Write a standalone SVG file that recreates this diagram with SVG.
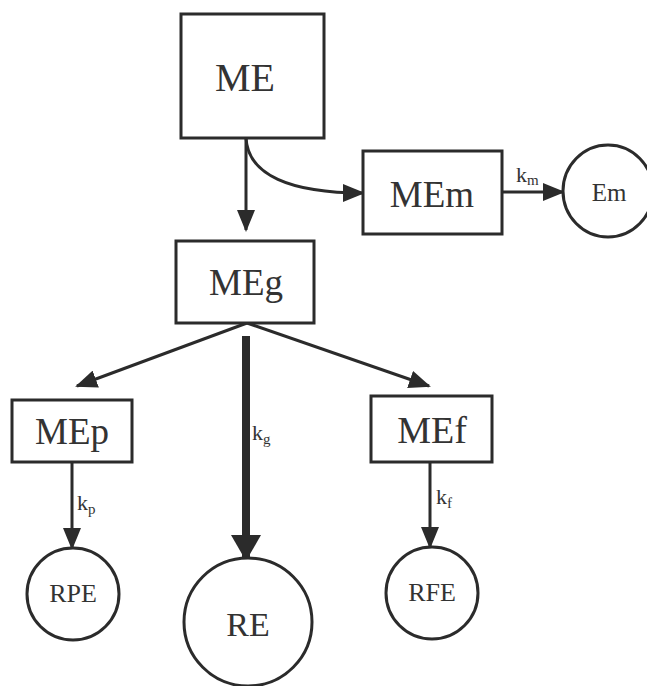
<svg xmlns="http://www.w3.org/2000/svg" width="647" height="686" viewBox="0 0 647 686">
<style>
.box{fill:#fff;stroke:#2b2b2b;stroke-width:3}
.circ{fill:#fff;stroke:#2b2b2b;stroke-width:3}
.lbl{font-family:"Liberation Serif","Times New Roman",serif;fill:#333;text-anchor:middle}
.k{font-family:"Liberation Serif","Times New Roman",serif;fill:#333;font-size:22px}
.sub{font-size:15px}
.edge{fill:none;stroke:#2b2b2b;stroke-width:3;marker-end:url(#arr)}
.thick{fill:none;stroke:#2b2b2b;stroke-width:8;marker-end:url(#arrT)}
</style>
<defs>
<marker id="arr" markerUnits="userSpaceOnUse" markerWidth="22" markerHeight="18" refX="20" refY="9" orient="auto">
<path d="M0,0 L22,9 L0,18 Z" fill="#2b2b2b"/>
</marker>
<marker id="arrT" markerUnits="userSpaceOnUse" markerWidth="26" markerHeight="30" refX="24" refY="15" orient="auto">
<path d="M0,0 L26,15 L0,30 Z" fill="#2b2b2b"/>
</marker>
</defs>
<rect width="647" height="686" fill="#fff"/>
<g id="connectors">
<path class="edge" d="M246,138 L246,230"/>
<path class="edge" d="M246,138 C248,175 290,193 363,193"/>
<path class="edge" d="M502,192 L563,192"/>
<path class="edge" d="M247,323 L77,386"/>
<path class="edge" d="M247,323 L429,386"/>
<path class="thick" d="M246,336 L246,559"/>
<path class="edge" d="M72,462 L72,548"/>
<path class="edge" d="M430,462 L430,547"/>
<text class="k" x="516" y="182">k<tspan class="sub" dy="3">m</tspan></text>
<text class="k" x="252" y="440">k<tspan class="sub" dy="4">g</tspan></text>
<text class="k" x="77" y="510">k<tspan class="sub" dy="4">p</tspan></text>
<text class="k" x="436" y="504">k<tspan class="sub" dy="4">f</tspan></text>
</g>
<g id="ME"><rect class="box" x="181" y="14" width="143" height="124"/><text class="lbl" x="245" y="91" font-size="40">ME</text></g>
<g id="MEm"><rect class="box" x="363" y="151" width="139" height="83"/><text class="lbl" x="432" y="207" font-size="37">MEm</text></g>
<g id="Em"><ellipse class="circ" cx="608" cy="191" rx="45" ry="46"/><text class="lbl" x="609" y="201" font-size="25">Em</text></g>
<g id="MEg"><rect class="box" x="176" y="241" width="138" height="82"/><text class="lbl" x="246" y="295" font-size="37">MEg</text></g>
<g id="MEp"><rect class="box" x="12" y="400" width="120" height="62"/><text class="lbl" x="72" y="444" font-size="37">MEp</text></g>
<g id="MEf"><rect class="box" x="371" y="396" width="121" height="66"/><text class="lbl" x="432" y="443" font-size="38">MEf</text></g>
<g id="RPE"><circle class="circ" cx="73" cy="594" r="46"/><text class="lbl" x="73" y="602" font-size="26">RPE</text></g>
<g id="RE"><circle class="circ" cx="248" cy="622" r="64"/><text class="lbl" x="248" y="636" font-size="34">RE</text></g>
<g id="RFE"><circle class="circ" cx="432" cy="593" r="46"/><text class="lbl" x="432" y="601" font-size="26">RFE</text></g>
</svg>
